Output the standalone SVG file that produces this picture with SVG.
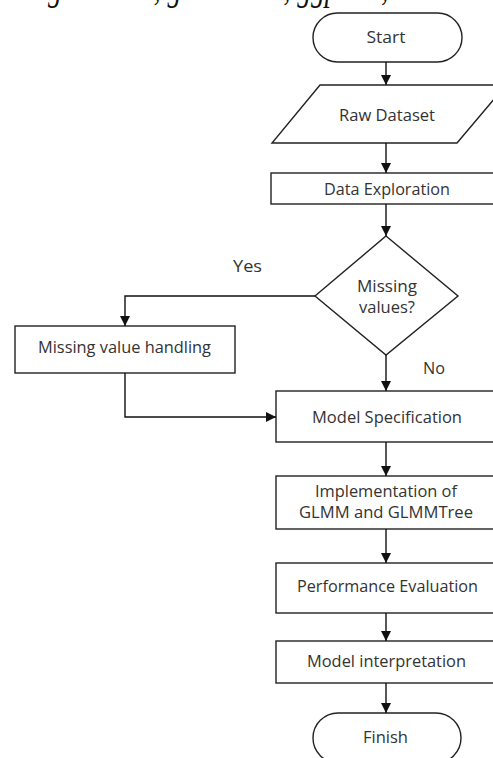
<svg xmlns="http://www.w3.org/2000/svg" width="493" height="758" viewBox="0 0 493 758">
<style>
.s{fill:#fff;stroke:#222;stroke-width:1.4}
.t{font-family:"Open Sans","Noto Sans",sans-serif;font-size:16.5px;fill:#333;text-anchor:middle}
.c{fill:none;stroke:#111;stroke-width:1.4}
.cap{font-family:"Liberation Serif",serif;font-size:36px;font-style:italic;fill:#111}
</style>
<defs>
<marker id="a" markerUnits="userSpaceOnUse" markerWidth="10" markerHeight="11" refX="10" refY="5" orient="auto">
<path d="M0,0 L10,5 L0,10 Z" fill="#111"/>
</marker>
</defs>
<rect width="493" height="758" fill="#fff"/>
<g id="caption">
<text class="cap" x="48" y="0" textLength="340" lengthAdjust="spacingAndGlyphs">glmertree, glmmTMB, ggplot2,</text>
</g>
<g id="start"><rect class="s" x="313" y="13" width="149" height="49" rx="24.5"/><text class="t" x="386" y="43" textLength="39" lengthAdjust="spacingAndGlyphs">Start</text></g>
<g id="raw"><path class="s" d="M320,85 L506,85 L457,143 L272,143 Z"/><text class="t" x="387" y="121" textLength="96" lengthAdjust="spacingAndGlyphs">Raw Dataset</text></g>
<g id="explore"><rect class="s" x="271" y="173" width="232" height="31"/><text class="t" x="387" y="195" textLength="126" lengthAdjust="spacingAndGlyphs">Data Exploration</text></g>
<g id="decision"><path class="s" d="M386,236 L458,296 L386,355 L315,296 Z"/><text class="t" x="387" y="292" textLength="60" lengthAdjust="spacingAndGlyphs">Missing</text><text class="t" x="387" y="313" textLength="56" lengthAdjust="spacingAndGlyphs">values?</text></g>
<g id="handling"><rect class="s" x="15" y="326" width="220" height="47"/><text class="t" x="124.5" y="353" textLength="173" lengthAdjust="spacingAndGlyphs">Missing value handling</text></g>
<g id="spec"><rect class="s" x="276" y="391" width="224" height="51"/><text class="t" x="387" y="423" textLength="150" lengthAdjust="spacingAndGlyphs">Model Specification</text></g>
<g id="impl"><rect class="s" x="276" y="476" width="224" height="53"/><text class="t" x="386" y="497" textLength="142" lengthAdjust="spacingAndGlyphs">Implementation of</text><text class="t" x="386" y="518" textLength="174" lengthAdjust="spacingAndGlyphs">GLMM and GLMMTree</text></g>
<g id="perf"><rect class="s" x="276" y="563" width="224" height="50"/><text class="t" x="387.5" y="592" textLength="181" lengthAdjust="spacingAndGlyphs">Performance Evaluation</text></g>
<g id="interp"><rect class="s" x="276" y="641" width="224" height="42"/><text class="t" x="386.5" y="667" textLength="159" lengthAdjust="spacingAndGlyphs">Model interpretation</text></g>
<g id="finish"><rect class="s" x="313" y="713" width="148" height="50" rx="25"/><text class="t" x="385.5" y="743" textLength="45" lengthAdjust="spacingAndGlyphs">Finish</text></g>
<g id="connectors">
<path class="c" d="M386,62 V85" marker-end="url(#a)"/>
<path class="c" d="M386,143 V173" marker-end="url(#a)"/>
<path class="c" d="M386,204 V236" marker-end="url(#a)"/>
<path class="c" d="M315,296 H125 V326" marker-end="url(#a)"/>
<path class="c" d="M386,355 V391" marker-end="url(#a)"/>
<path class="c" d="M125,373 V417 H276" marker-end="url(#a)"/>
<path class="c" d="M386,442 V476" marker-end="url(#a)"/>
<path class="c" d="M386,529 V563" marker-end="url(#a)"/>
<path class="c" d="M386,613 V641" marker-end="url(#a)"/>
<path class="c" d="M386,683 V713" marker-end="url(#a)"/>
<text class="t" x="247.5" y="272" textLength="29" lengthAdjust="spacingAndGlyphs">Yes</text>
<text class="t" x="434" y="374" textLength="22" lengthAdjust="spacingAndGlyphs">No</text>
</g>
</svg>
